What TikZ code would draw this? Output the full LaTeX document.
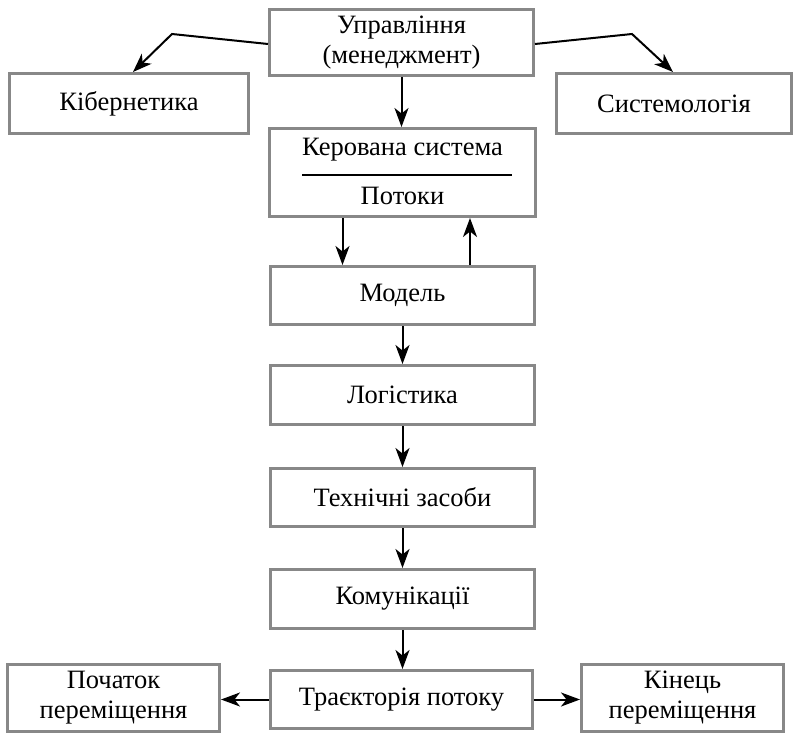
\documentclass[tikz,border=0pt]{standalone}
\usepackage{fontspec}
\setmainfont{Liberation Serif}
\usetikzlibrary{arrows.meta}
\definecolor{framegray}{RGB}{136,136,136}
\begin{document}
\begin{tikzpicture}[x=1pt,y=-1pt,
  box/.style={draw=framegray, line width=3.3pt, fill=white, inner sep=0pt,
    align=center, font=\fontsize{26.5}{30}\selectfont},
  lbl/.style={inner sep=0pt, font=\fontsize{26.5}{30}\selectfont},
  arr/.style={line width=2pt, -{Stealth[length=19pt,width=14pt,inset=5.5pt]}}]
\useasboundingbox (0,0) rectangle (797,735);

% nodes
\node[box, minimum width=263.7pt, minimum height=65.7pt] (upr) at (401.5,42.5) {Управління\\(менеджмент)};
\node[box, minimum width=238.7pt, minimum height=59.7pt] (kib) at (129,103.5) {Кібернетика};
\node[box, minimum width=234.7pt, minimum height=59.7pt] (sys) at (674,103.5) {Системологія};
\node[box, minimum width=265.7pt, minimum height=87.7pt] (ker) at (402.5,172.5) {};
\node[lbl] (kertop) at (402.5,150) {Керована система};
\node[lbl] (kerbot) at (402.5,196) {Потоки};
\draw[line width=1.6pt] (302,175) -- (512,175);
\node[box, minimum width=263.7pt, minimum height=57.7pt] (mod) at (402.5,295.5) {Модель};
\node[box, minimum width=263.7pt, minimum height=58.7pt] (log) at (402.5,395) {Логістика};
\node[box, minimum width=263.7pt, minimum height=57.7pt] (tech) at (402.5,497.5) {Технічні засоби};
\node[box, minimum width=263.7pt, minimum height=58.7pt] (kom) at (402.5,599) {Комунікації};
\node[box, minimum width=261.7pt, minimum height=57.7pt] (traj) at (401.5,699.5) {Траєкторія потоку};
\node[box, minimum width=211.7pt, minimum height=66.7pt] (poch) at (113.5,698) {Початок\\переміщення};
\node[box, minimum width=201.7pt, minimum height=66.7pt] (kin) at (682.5,698) {Кінець\\переміщення};

% bends of the side connectors
\coordinate (kbend) at (172,34);
\coordinate (sbend) at (632,34);

% connectors
\draw[arr] ([yshift=-1.5pt]upr.west) -- (kbend) -- ([xshift=4pt]kib.north);
\draw[arr] ([yshift=-1.5pt]upr.east) -- (sbend) -- ([xshift=-1pt]sys.north);
\draw[arr] (upr.south) -- (upr.south |- ker.north);
\draw[arr] ([xshift=-60pt]ker.south) -- ([xshift=-60pt]ker.south |- mod.north);
\draw[arr] ([xshift=67.5pt]mod.north) -- ([xshift=67.5pt]mod.north |- ker.south);
\draw[arr] (mod.south) -- (log.north);
\draw[arr] (log.south) -- (tech.north);
\draw[arr] (tech.south) -- (kom.north);
\draw[arr] (kom.south) -- (kom.south |- traj.north);
\draw[arr] (traj.west) -- (traj.west -| poch.east);
\draw[arr] (traj.east) -- (traj.east -| kin.west);
\end{tikzpicture}
\end{document}
